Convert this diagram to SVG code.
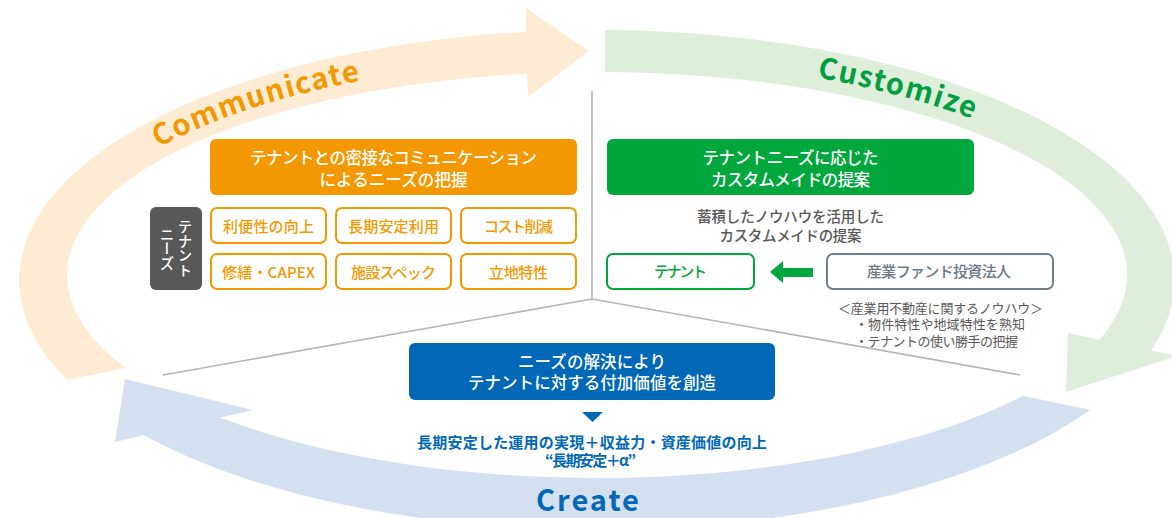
<svg xmlns="http://www.w3.org/2000/svg" width="1172" height="518" viewBox="0 0 1172 518">
<style>
.jp{font-family:"Noto Sans CJK JP","Noto Sans",sans-serif;}
.hdr{font-size:16.5px;fill:#ffffff;text-anchor:middle;font-weight:500;}
.tag{font-size:15px;fill:#f39800;text-anchor:middle;font-weight:500;}
.tagbox{fill:#ffffff;stroke:#f39800;stroke-width:2;}
.big{font-family:"Noto Sans CJK JP","Noto Sans",sans-serif;font-weight:700;font-size:29px;}
.gray{fill:#595757;}
.divider{stroke:#b5b5b5;stroke-width:1.6;fill:none;}
</style>
<defs>
<path id="pathComm" d="M158.7,147.5 A546,219 0 0 1 597,59"/>
<path id="pathCust" d="M817,77.6 A546,219 0 0 1 1069.8,168.5"/>
</defs>

<g id="cycle">
<path id="arc-communicate" d="M67.3,380 A578,250 0 0 1 526,31.9 L526,8 L589,51 L528,97 L527,73.8 A530,203 0 0 0 125.9,368 Z" fill="#fdebd4"/>
<path id="arc-customize" d="M605,30 A578,250 0 0 1 1151,350.6 L1177,356 L1066,392 L1068,333 L1099.4,339.7 A530,203 0 0 0 605,72 Z" fill="#dfeedb"/>
<path id="arc-create" d="M1023,395.8 L1090,410 A578,250 0 0 1 143.8,435.3 L115,442 L125,379 L253,410 L220.2,417.6 A530,203 0 0 0 1023,395.8 Z" fill="#d4dff0"/>
<text class="big" fill="#f39800" letter-spacing="1.4"><textPath href="#pathComm">Communicate</textPath></text>
<text class="big" fill="#00a040" letter-spacing="1.5"><textPath href="#pathCust">Customize</textPath></text>
<text class="big" fill="#0068b7" x="588.5" y="511" text-anchor="middle" letter-spacing="2">Create</text>
</g>

<g id="dividers">
<line class="divider" x1="592" y1="91" x2="592" y2="299"/>
<polyline class="divider" points="163,375 592,299 1020,375"/>
</g>

<g id="node-communicate-header">
<rect x="210" y="139" width="367" height="56" rx="6" fill="#f39800"/>
<text class="jp hdr" x="393.5" y="164.3" textLength="287" lengthAdjust="spacing">テナントとの密接なコミュニケーション</text>
<text class="jp hdr" x="393.5" y="186.3" textLength="148" lengthAdjust="spacing">によるニーズの把握</text>
</g>

<g id="node-tenant-needs">
<rect x="150" y="207" width="52" height="83" rx="6" fill="#595757"/>
<text class="jp" x="185" y="248.5" text-anchor="middle" font-size="14.5" fill="#ffffff" font-weight="500" style="writing-mode:vertical-rl">テナント</text>
<text class="jp" x="167" y="248.5" text-anchor="middle" font-size="14.5" fill="#ffffff" font-weight="500" style="writing-mode:vertical-rl">ニーズ</text>
</g>

<g id="node-need-convenience"><rect class="tagbox" x="211" y="208" width="115" height="35" rx="6"/><text class="jp tag" x="268.5" y="231.5" textLength="91" lengthAdjust="spacing">利便性の向上</text></g>
<g id="node-need-longterm"><rect class="tagbox" x="336" y="208" width="115" height="35" rx="6"/><text class="jp tag" x="393.5" y="231.5" textLength="91" lengthAdjust="spacing">長期安定利用</text></g>
<g id="node-need-cost"><rect class="tagbox" x="461" y="208" width="115" height="35" rx="6"/><text class="jp tag" x="518.5" y="231.5" textLength="69" lengthAdjust="spacing">コスト削減</text></g>
<g id="node-need-capex"><rect class="tagbox" x="211" y="254" width="115" height="35" rx="6"/><text class="jp tag" x="268.5" y="277.5" textLength="93" lengthAdjust="spacing">修繕・CAPEX</text></g>
<g id="node-need-facility"><rect class="tagbox" x="336" y="254" width="115" height="35" rx="6"/><text class="jp tag" x="393.5" y="277.5" textLength="85" lengthAdjust="spacing">施設スペック</text></g>
<g id="node-need-location"><rect class="tagbox" x="461" y="254" width="115" height="35" rx="6"/><text class="jp tag" x="518.5" y="277.5" textLength="59" lengthAdjust="spacing">立地特性</text></g>

<g id="node-customize-header">
<rect x="607" y="139" width="367" height="56" rx="6" fill="#00a73c"/>
<text class="jp hdr" x="790.5" y="164.3" textLength="176" lengthAdjust="spacing">テナントニーズに応じた</text>
<text class="jp hdr" x="790.5" y="186.3" textLength="159" lengthAdjust="spacing">カスタムメイドの提案</text>
</g>

<g id="node-proposal-note">
<text class="jp gray" x="790.5" y="221.5" text-anchor="middle" font-size="14.5" font-weight="500" textLength="187" lengthAdjust="spacing">蓄積したノウハウを活用した</text>
<text class="jp gray" x="790.5" y="240.5" text-anchor="middle" font-size="14.5" font-weight="500" textLength="142" lengthAdjust="spacing">カスタムメイドの提案</text>
</g>

<g id="node-tenant">
<rect x="607" y="254" width="147" height="35" rx="6" fill="#ffffff" stroke="#00a73c" stroke-width="2"/>
<text class="jp" x="680.5" y="277.3" text-anchor="middle" font-size="15" font-weight="500" fill="#00a73c" textLength="53" lengthAdjust="spacing">テナント</text>
</g>

<g id="node-fund">
<rect x="827" y="254" width="226" height="35" rx="6" fill="#ffffff" stroke="#6f7f8e" stroke-width="2"/>
<text class="jp" x="939" y="277.3" text-anchor="middle" font-size="15" font-weight="500" fill="#6a7886" textLength="144" lengthAdjust="spacing">産業ファンド投資法人</text>
</g>

<g id="node-fund-note">
<text class="jp gray" x="940.5" y="313" text-anchor="middle" font-size="13" textLength="205" lengthAdjust="spacing">＜産業用不動産に関するノウハウ＞</text>
<text class="jp gray" x="855" y="329" font-size="13" textLength="170" lengthAdjust="spacing">・物件特性や地域特性を熟知</text>
<text class="jp gray" x="855" y="346" font-size="13" textLength="163" lengthAdjust="spacing">・テナントの使い勝手の把握</text>
</g>

<g id="node-create-header">
<rect x="409" y="343" width="366" height="57" rx="6" fill="#0068b7"/>
<text class="jp hdr" x="592" y="368.3" textLength="148" lengthAdjust="spacing">ニーズの解決により</text>
<text class="jp hdr" x="592" y="389.3" textLength="248" lengthAdjust="spacing">テナントに対する付加価値を創造</text>
</g>

<g id="node-create-result">
<text class="jp" x="592" y="447.7" text-anchor="middle" font-size="15" font-weight="700" fill="#0068b7" textLength="350" lengthAdjust="spacing">長期安定した運用の実現＋収益力・資産価値の向上</text>
<text class="jp" x="590.5" y="465.7" text-anchor="middle" font-size="15" font-weight="700" fill="#0068b7" textLength="91" lengthAdjust="spacing">“長期安定＋α”</text>
</g>

<g id="connectors">
<polygon id="arrow-fund-to-tenant" points="770,272 783,261 783,268 813,268 813,277 783,277 783,283" fill="#00a73c"/>
<polygon id="arrow-create-result" points="582,412 603,412 592.5,422" fill="#0068b7"/>
</g>
</svg>
